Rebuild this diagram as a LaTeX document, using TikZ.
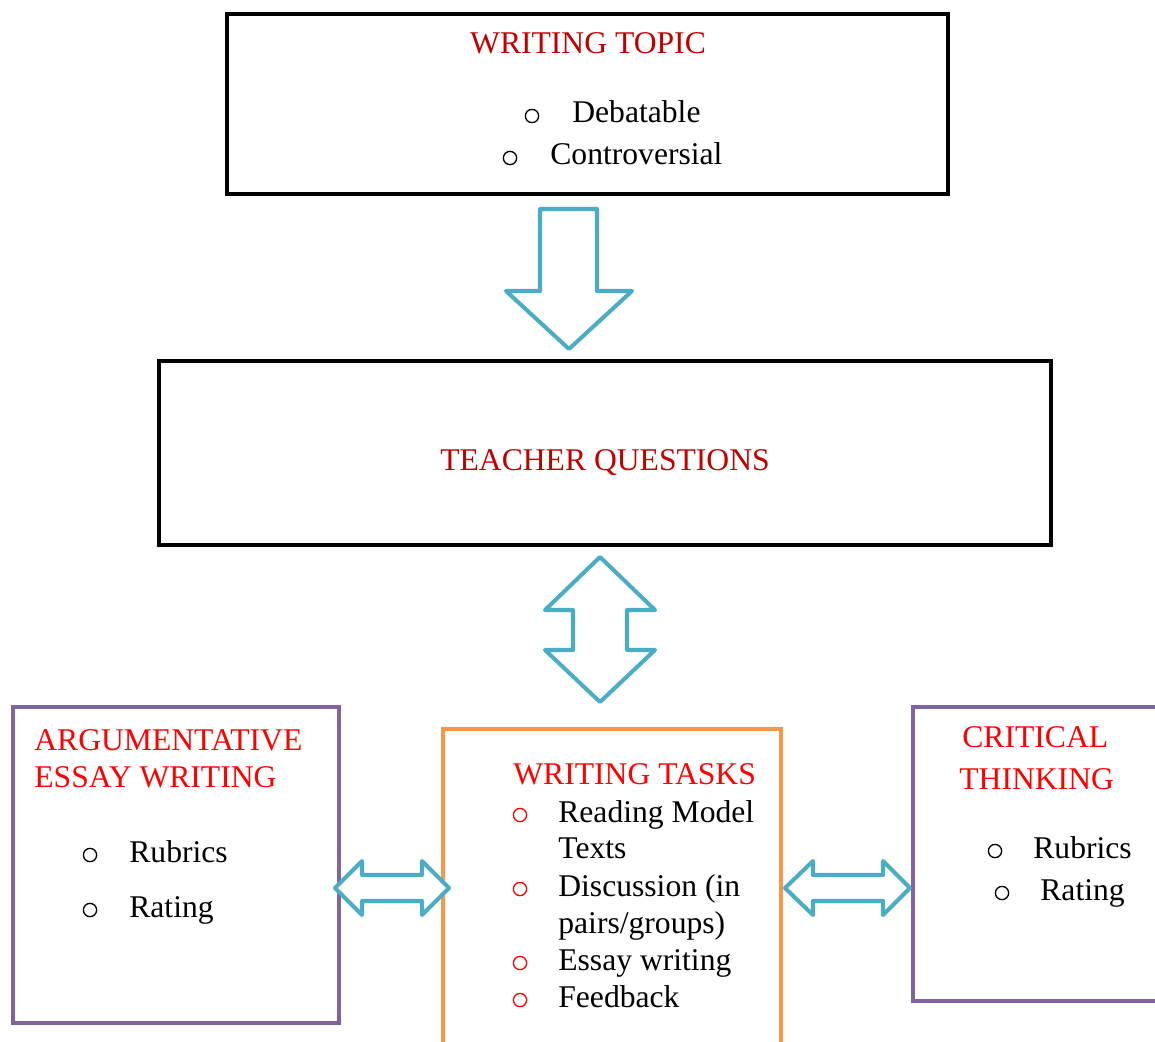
\documentclass[tikz,border=0pt]{standalone}
\usepackage{fontspec}
\setmainfont{Liberation Serif}
\definecolor{headdark}{HTML}{C00000}
\definecolor{headred}{HTML}{FF0000}
\definecolor{boxpurple}{HTML}{8064A2}
\definecolor{boxorange}{HTML}{F79646}
\definecolor{arrowcyan}{HTML}{4BACC6}
\begin{document}
\begin{tikzpicture}[x=0.02cm,y=-0.02cm,
  frame/.style={draw=#1, line width=2.6pt, fill=white, inner sep=0pt},
  blockarrow/.style={draw=arrowcyan, fill=white, line width=2.3pt, line join=round},
  txt/.style={inner sep=0pt, anchor=base west, font=\fontsize{18}{22}\selectfont},
  ctxt/.style={inner sep=0pt, anchor=base, font=\fontsize{18}{22}\selectfont},
  bul/.style={circle, draw=#1, line width=0.75pt, inner sep=0pt, minimum size=0.265cm},
  bul/.default=black,
]
\useasboundingbox (0,0) rectangle (1155,1041);

% boxes
\node (topic)   [frame=black, minimum width=14.42cm, minimum height=3.6cm]  at (587.5,104) {};
\node (teacher) [frame=black, minimum width=17.84cm, minimum height=3.68cm] at (605,453) {};
\node (essay)   [frame=boxpurple, minimum width=6.52cm, minimum height=6.32cm] at (176,865) {};
\node (tasks)   [frame=boxorange, minimum width=6.76cm, minimum height=6.6cm]  at (612,894) {};
\node (critical)[frame=boxpurple, minimum width=5.74cm, minimum height=5.88cm] at (1056.5,854) {};

% block arrows
\draw[blockarrow] (540,209) -- (597,209) -- (597,291) -- (632,291) -- (569,349)
  -- (506,291) -- (540,291) -- cycle;
\draw[blockarrow] (600,557) -- (655,610) -- (627,610) -- (627,650) -- (655,650)
  -- (600,702) -- (545,650) -- (573,650) -- (573,610) -- (545,610) -- cycle;
\draw[blockarrow] (335,888) -- (362,861) -- (362,875) -- (422,875) -- (422,861)
  -- (449,888) -- (422,915) -- (422,901) -- (362,901) -- (362,915) -- cycle;
\draw[blockarrow] (785,888) -- (813,861) -- (813,875) -- (883,875) -- (883,861)
  -- (910,888) -- (883,915) -- (883,901) -- (813,901) -- (813,915) -- cycle;

% writing topic
\node (t1) [ctxt, text=headdark] at (588,53) {WRITING TOPIC};
\node (t1a) [bul] at (532,116) {};
\node (t1b) [txt] at (572,122) {Debatable};
\node (t1c) [bul] at (510,158) {};
\node (t1d) [txt] at (550,164) {Controversial};

% teacher questions
\node (t2) [ctxt, text=headdark] at (605,470) {TEACHER QUESTIONS};

% argumentative essay writing
\node (e1) [txt, text=headred] at (34,750) {ARGUMENTATIVE};
\node (e2) [txt, text=headred] at (34,787) {ESSAY WRITING};
\node (e3) [bul] at (90,855) {};
\node (e4) [txt] at (129,862) {Rubrics};
\node (e5) [bul] at (90,910) {};
\node (e6) [txt] at (129,917) {Rating};

% writing tasks
\node (w0) [txt, text=headred] at (513,784) {WRITING TASKS};
\node (w1b) [bul=headred] at (520,815) {};
\node (w1) [txt] at (558,822) {Reading Model};
\node (w1c) [txt] at (558,858) {Texts};
\node (w2b) [bul=headred] at (520,889) {};
\node (w2) [txt] at (558,896) {Discussion (in};
\node (w2c) [txt] at (558,933) {pairs/groups)};
\node (w3b) [bul=headred] at (520,963) {};
\node (w3) [txt] at (558,970) {Essay writing};
\node (w4b) [bul=headred] at (520,1000) {};
\node (w4) [txt] at (558,1007) {Feedback};

% critical thinking
\node (c1) [txt, text=headred] at (962,747) {CRITICAL};
\node (c2) [txt, text=headred] at (959,789) {THINKING};
\node (c3) [bul] at (995,851) {};
\node (c4) [txt] at (1033,858) {Rubrics};
\node (c5) [bul] at (1002,893) {};
\node (c6) [txt] at (1040,900) {Rating};
\end{tikzpicture}
\end{document}
